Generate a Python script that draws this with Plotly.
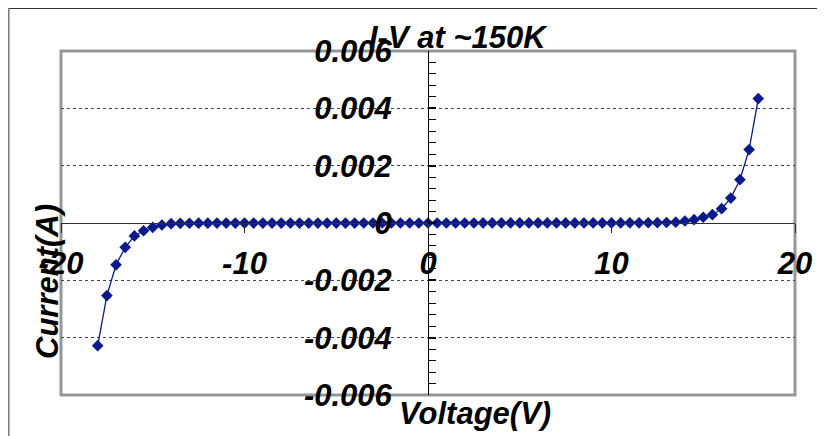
import plotly.graph_objects as go

voltage = [-18.0, -17.5, -17.0, -16.5, -16.0, -15.5, -15.0, -14.5, -14.0, -13.5,
           -13.0, -12.5, -12.0, -11.5, -11.0, -10.5, -10.0, -9.5, -9.0, -8.5,
           -8.0, -7.5, -7.0, -6.5, -6.0, -5.5, -5.0, -4.5, -4.0, -3.5,
           -3.0, -2.5, -2.0, -1.5, -1.0, -0.5, 0.0, 0.5, 1.0, 1.5,
           2.0, 2.5, 3.0, 3.5, 4.0, 4.5, 5.0, 5.5, 6.0, 6.5,
           7.0, 7.5, 8.0, 8.5, 9.0, 9.5, 10.0, 10.5, 11.0, 11.5,
           12.0, 12.5, 13.0, 13.5, 14.0, 14.5, 15.0, 15.5, 16.0, 16.5,
           17.0, 17.5, 18.0]
current = [-0.00428, -0.00253, -0.00146, -0.00085, -0.00045, -0.00027, -0.00015, -0.00007, -0.000025, -0.000012,
           -0.000008, -0.000006, -0.000005, -0.000004, -0.000004, -0.000003, -0.000003, -0.000002, -0.000002, -0.000002,
           -0.000002, -0.000001, -0.000001, -0.000001, -0.000001, -0.000001, -0.000001, -0.000001, -0.000001, 0.0,
           0.0, 0.0, 0.0, 0.0, 0.0, 0.0, 0.0, 0.0, 0.0, 0.0,
           0.0, 0.0, 0.000001, 0.000001, 0.000001, 0.000001, 0.000001, 0.000001, 0.000001, 0.000001,
           0.000002, 0.000002, 0.000002, 0.000002, 0.000003, 0.000003, 0.000004, 0.000004, 0.000005, 0.000006,
           0.000008, 0.000011, 0.000018, 0.00003, 0.00007, 0.000115, 0.0002, 0.00029, 0.0005, 0.00087,
           0.00151, 0.00256, 0.00434]

x_ticks = [-20, -10, 0, 10, 20]
x_ticktext = ["-20", "-10", "0", "10", "20"]
y_ticks = [-0.006, -0.004, -0.002, 0, 0.002, 0.004, 0.006]
y_ticktext = ["-0.006", "-0.004", "-0.002", "0", "0.002", "0.004", "0.006"]

title_text = "I-V at ~150K"
x_title = "Voltage(V)"
y_title = "Current(A)"

FONT = "Liberation Sans, Arial, sans-serif"
# the page body adds an 8px offset, so the figure is 8px smaller than the window
W, H = 817, 428
ML, MR, MT, MB = 53, 30, 43, 41
PW, PH = W - ML - MR, H - MT - MB

fig = go.Figure()
fig.add_trace(go.Scatter(
    x=voltage, y=current, mode="lines+markers",
    line=dict(color="#0A1A8C", width=1.3),
    marker=dict(symbol="diamond", size=9, color="#0A1A8C"),
    showlegend=False,
))

FS = 31
tickfont = dict(family=FONT, size=FS, color="black", weight="bold", style="italic")
textfont = dict(family=FONT, size=FS, color="black", weight="bold", style="italic")

fig.update_layout(
    width=W, height=H, autosize=False,
    margin=dict(l=ML, r=MR, t=MT, b=MB, pad=0),
    paper_bgcolor="white", plot_bgcolor="white",
    xaxis=dict(
        range=[-20, 20], anchor="free", position=0.5,
        tickvals=x_ticks, ticktext=x_ticktext,
        showline=True, linecolor="#303030", linewidth=1,
        ticks="outside", ticklen=9, tickwidth=1, tickcolor="#303030",
        showgrid=False, zeroline=False,
        tickfont=tickfont, ticklabelstandoff=4,
    ),
    yaxis=dict(
        range=[-0.006, 0.006], anchor="free", position=0.5,
        tickvals=y_ticks, ticktext=y_ticktext,
        showline=True, linecolor="black", linewidth=1,
        ticks="inside", ticklen=7, tickwidth=1.5, tickcolor="black",
        minor=dict(ticks="inside", ticklen=7, tickwidth=1, tickcolor="black",
                   dtick=0.0004, showgrid=False),
        showgrid=True, gridcolor="#444444", griddash="dot", gridwidth=1,
        zeroline=False,
        tickfont=tickfont, ticklabelstandoff=30,
    ),
    shapes=[
        dict(type="rect", xref="paper", yref="paper", x0=0, x1=1, y0=0, y1=1,
             line=dict(color="#969696", width=3), layer="below"),
        dict(type="line", xref="paper", yref="paper",
             x0=(0.5 - ML) / PW, x1=(W - ML) / PW,
             y0=1 + (MT - 0.5) / PH, y1=1 + (MT - 0.5) / PH,
             line=dict(color="#333333", width=1.2), layer="below"),
        dict(type="line", xref="paper", yref="paper",
             x0=(0.8 - ML) / PW, x1=(0.8 - ML) / PW,
             y0=1 + (MT - 0.5) / PH, y1=-MB / PH,
             line=dict(color="#777777", width=1.5), layer="below"),
    ],
    annotations=[
        dict(text=title_text, xref="paper", yref="paper",
             x=(450 - ML) / PW, y=1 + (MT - 29.5) / PH, xanchor="center", yanchor="middle",
             showarrow=False, font=textfont),
        dict(text=x_title, xref="paper", yref="paper",
             x=(467 - ML) / PW, y=-(405 - MT - PH) / PH, xanchor="center", yanchor="middle",
             showarrow=False, font=textfont),
        dict(text=y_title, xref="paper", yref="paper", textangle=-90,
             x=(39 - ML) / PW, y=1 - (274 - MT) / PH, xanchor="center", yanchor="middle",
             showarrow=False, font=textfont),
    ],
)

fig.write_html("out.html")
